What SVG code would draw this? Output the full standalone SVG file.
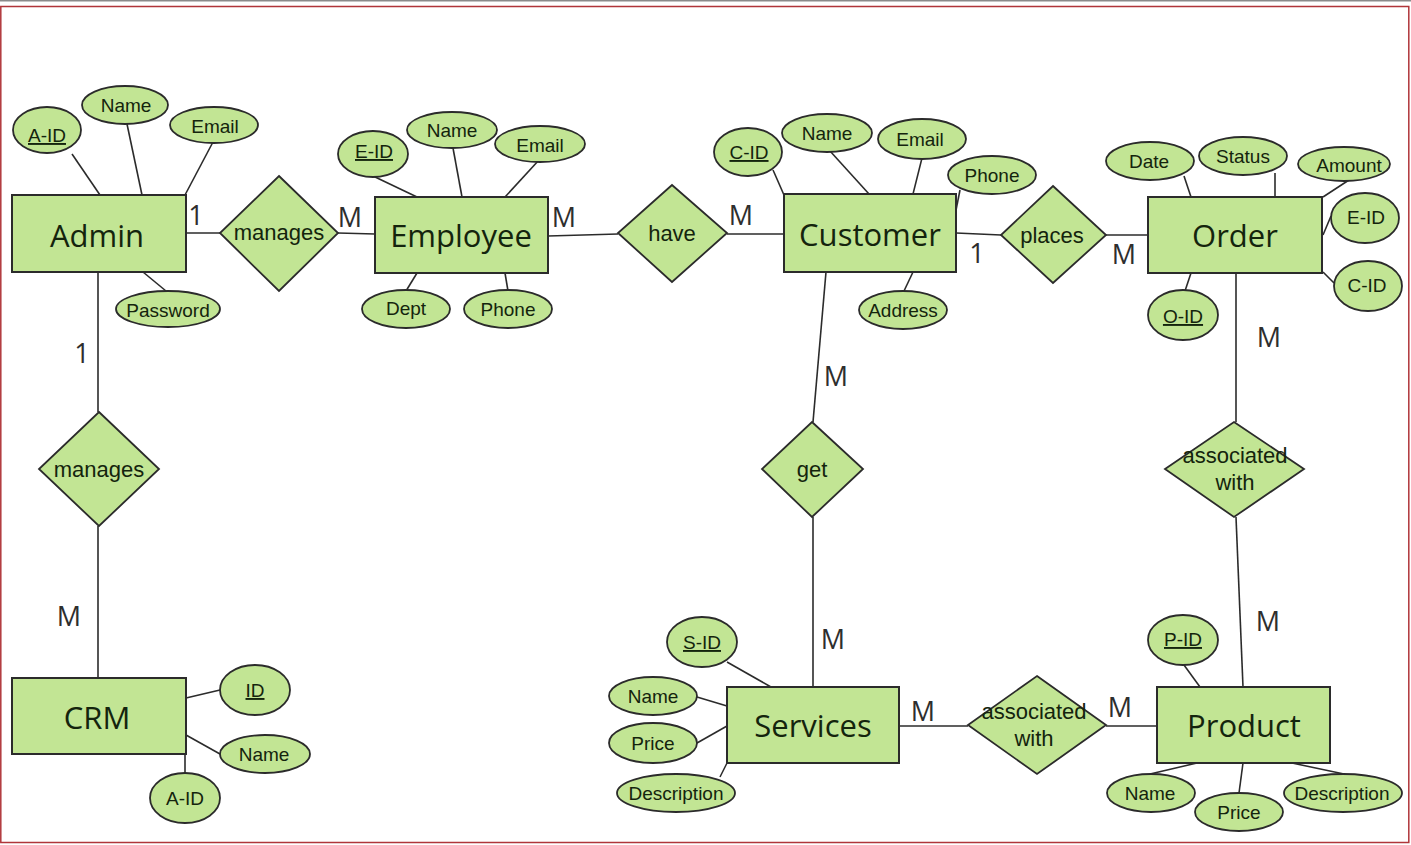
<svg xmlns="http://www.w3.org/2000/svg" width="1411" height="845" viewBox="0 0 1411 845">
<style>
.ent rect{fill:#c2e594;stroke:#2b2b2b;stroke-width:2}
.rel polygon{fill:#c2e594;stroke:#2b2b2b;stroke-width:1.8}
.att ellipse{fill:#c2e594;stroke:#2b2b2b;stroke-width:1.8}
.et{font-family:"Open Sans","Noto Sans",sans-serif;font-size:31px;fill:#14240d;text-anchor:middle}
.rt{font-family:"Liberation Sans",Arial,sans-serif;font-size:22px;fill:#14240d;text-anchor:middle}
.at{font-family:"Liberation Sans",Arial,sans-serif;font-size:19px;fill:#14240d;text-anchor:middle}
.key{text-decoration:underline}
.card{font-family:"Open Sans","Noto Sans",sans-serif;font-size:27px;fill:#2e2e2e;text-anchor:middle}
#connectors line{stroke:#2b2b2b;stroke-width:1.6}
</style>
<rect x="0" y="0" width="1411" height="845" fill="#ffffff"/>
<line x1="0" y1="0.8" x2="1411" y2="0.8" stroke="#8a8a8a" stroke-width="1.6"/>
<rect x="0.8" y="6.5" width="1408" height="836" fill="none" stroke="#b0353a" stroke-width="1.5"/>

<g id="connectors">
<!-- relationships -->
<line x1="186" y1="233" x2="220" y2="233"/>
<line x1="338" y1="233" x2="375" y2="234"/>
<line x1="548" y1="236" x2="618" y2="234"/>
<line x1="727" y1="234" x2="784" y2="234"/>
<line x1="956" y1="233" x2="1001" y2="235"/>
<line x1="1106" y1="235" x2="1148" y2="235"/>
<line x1="98" y1="272" x2="98" y2="412"/>
<line x1="98" y1="526" x2="98" y2="678"/>
<line x1="826" y1="272" x2="813" y2="422"/>
<line x1="813" y1="517" x2="813" y2="687"/>
<line x1="1236" y1="273" x2="1236" y2="422"/>
<line x1="1236" y1="517" x2="1243" y2="687"/>
<line x1="899" y1="726" x2="968" y2="726"/>
<line x1="1106" y1="726" x2="1157" y2="726"/>
<!-- attributes -->
<line x1="72" y1="154" x2="100" y2="195"/>
<line x1="127" y1="124" x2="142" y2="195"/>
<line x1="213" y1="142" x2="185" y2="195"/>
<line x1="143" y1="272" x2="166" y2="291"/>
<line x1="373" y1="176" x2="417" y2="197"/>
<line x1="453" y1="148" x2="462" y2="197"/>
<line x1="539" y1="160" x2="505" y2="197"/>
<line x1="417" y1="273" x2="406" y2="291"/>
<line x1="505" y1="273" x2="508" y2="291"/>
<line x1="773" y1="170" x2="784" y2="195"/>
<line x1="830" y1="151" x2="869" y2="194"/>
<line x1="922" y1="158" x2="913" y2="194"/>
<line x1="960" y1="190" x2="956" y2="210"/>
<line x1="913" y1="272" x2="904" y2="291"/>
<line x1="1184" y1="176" x2="1191" y2="197"/>
<line x1="1275" y1="173" x2="1275" y2="200"/>
<line x1="1349" y1="180" x2="1323" y2="197"/>
<line x1="1331" y1="216" x2="1323" y2="235"/>
<line x1="1323" y1="272" x2="1334" y2="283"/>
<line x1="1191" y1="273" x2="1185" y2="291"/>
<line x1="186" y1="698" x2="220" y2="690"/>
<line x1="186" y1="735" x2="220" y2="754"/>
<line x1="185" y1="754" x2="185" y2="773"/>
<line x1="727" y1="662" x2="771" y2="687"/>
<line x1="697" y1="697" x2="727" y2="706"/>
<line x1="697" y1="743" x2="727" y2="726"/>
<line x1="720" y1="777" x2="727" y2="763"/>
<line x1="1184" y1="665" x2="1200" y2="687"/>
<line x1="1150" y1="774" x2="1197" y2="763"/>
<line x1="1243" y1="763" x2="1239" y2="793"/>
<line x1="1292" y1="763" x2="1344" y2="774"/>
</g>

<g id="cardinalities">
<text class="card" x="196" y="225">1</text>
<text class="card" x="350" y="227">M</text>
<text class="card" x="564" y="227">M</text>
<text class="card" x="741" y="225">M</text>
<text class="card" x="977" y="263">1</text>
<text class="card" x="1124" y="264">M</text>
<text class="card" x="1269" y="347">M</text>
<text class="card" x="82" y="363">1</text>
<text class="card" x="69" y="626">M</text>
<text class="card" x="836" y="386">M</text>
<text class="card" x="1268" y="631">M</text>
<text class="card" x="833" y="649">M</text>
<text class="card" x="923" y="721">M</text>
<text class="card" x="1120" y="717">M</text>
</g>

<!-- entities -->
<g id="admin" class="ent"><rect x="12" y="195" width="174" height="77"/><text class="et" x="97" y="247">Admin</text></g>
<g id="employee" class="ent"><rect x="375" y="197" width="173" height="76"/><text class="et" x="461" y="247">Employee</text></g>
<g id="customer" class="ent"><rect x="784" y="194" width="172" height="78"/><text class="et" x="870" y="246">Customer</text></g>
<g id="order" class="ent"><rect x="1148" y="197" width="174" height="76"/><text class="et" x="1235" y="247">Order</text></g>
<g id="crm" class="ent"><rect x="12" y="678" width="174" height="76"/><text class="et" x="97" y="729">CRM</text></g>
<g id="services" class="ent"><rect x="727" y="687" width="172" height="76"/><text class="et" x="813" y="737">Services</text></g>
<g id="product" class="ent"><rect x="1157" y="687" width="173" height="76"/><text class="et" x="1244" y="737">Product</text></g>

<!-- relationships -->
<g id="rel-manages-emp" class="rel"><polygon points="279,176 338,233 279,291 220,233"/><text class="rt" x="279" y="240">manages</text></g>
<g id="rel-have" class="rel"><polygon points="672,185 727,233 672,282 618,233"/><text class="rt" x="672" y="241">have</text></g>
<g id="rel-places" class="rel"><polygon points="1053,186 1106,235 1053,283 1001,235"/><text class="rt" x="1052" y="243">places</text></g>
<g id="rel-manages-crm" class="rel"><polygon points="99,412 159,469 99,526 39,469"/><text class="rt" x="99" y="477">manages</text></g>
<g id="rel-get" class="rel"><polygon points="812,422 863,469 812,517 762,469"/><text class="rt" x="812" y="477">get</text></g>
<g id="rel-assoc-order" class="rel"><polygon points="1234,422 1304,469 1234,517 1165,469"/><text class="rt" x="1235" y="463">associated</text><text class="rt" x="1235" y="490">with</text></g>
<g id="rel-assoc-svc" class="rel"><polygon points="1037,676 1106,725 1037,774 968,725"/><text class="rt" x="1034" y="719">associated</text><text class="rt" x="1034" y="746">with</text></g>

<!-- attributes -->
<g id="admin-aid" class="att"><ellipse cx="47" cy="130" rx="34" ry="23"/><text class="at key" x="47" y="142">A-ID</text></g>
<g id="admin-name" class="att"><ellipse cx="125" cy="105" rx="43" ry="19"/><text class="at" x="126" y="112">Name</text></g>
<g id="admin-email" class="att"><ellipse cx="214" cy="125" rx="44" ry="18"/><text class="at" x="215" y="133">Email</text></g>
<g id="admin-password" class="att"><ellipse cx="168" cy="309" rx="52" ry="18"/><text class="at" x="168" y="317">Password</text></g>

<g id="emp-eid" class="att"><ellipse cx="373" cy="154" rx="35" ry="23"/><text class="at key" x="374" y="158">E-ID</text></g>
<g id="emp-name" class="att"><ellipse cx="452" cy="130" rx="45" ry="18"/><text class="at" x="452" y="137">Name</text></g>
<g id="emp-email" class="att"><ellipse cx="540" cy="144" rx="45" ry="18"/><text class="at" x="540" y="152">Email</text></g>
<g id="emp-dept" class="att"><ellipse cx="406" cy="309" rx="44" ry="19"/><text class="at" x="406" y="315">Dept</text></g>
<g id="emp-phone" class="att"><ellipse cx="508" cy="309" rx="44" ry="19"/><text class="at" x="508" y="316">Phone</text></g>

<g id="cust-cid" class="att"><ellipse cx="748" cy="152" rx="34" ry="24"/><text class="at key" x="749" y="159">C-ID</text></g>
<g id="cust-name" class="att"><ellipse cx="827" cy="133" rx="45" ry="19"/><text class="at" x="827" y="140">Name</text></g>
<g id="cust-email" class="att"><ellipse cx="922" cy="139" rx="44" ry="20"/><text class="at" x="920" y="146">Email</text></g>
<g id="cust-phone" class="att"><ellipse cx="992" cy="175" rx="44" ry="19"/><text class="at" x="992" y="182">Phone</text></g>
<g id="cust-address" class="att"><ellipse cx="903" cy="310" rx="44" ry="19"/><text class="at" x="903" y="317">Address</text></g>

<g id="order-date" class="att"><ellipse cx="1150" cy="161" rx="44" ry="19"/><text class="at" x="1149" y="168">Date</text></g>
<g id="order-status" class="att"><ellipse cx="1243" cy="156" rx="44" ry="19"/><text class="at" x="1243" y="163">Status</text></g>
<g id="order-amount" class="att"><ellipse cx="1344" cy="164" rx="46" ry="17"/><text class="at" x="1349" y="172">Amount</text></g>
<g id="order-eid" class="att"><ellipse cx="1365" cy="218" rx="34" ry="25"/><text class="at" x="1366" y="224">E-ID</text></g>
<g id="order-cid" class="att"><ellipse cx="1368" cy="286" rx="34" ry="25"/><text class="at" x="1367" y="292">C-ID</text></g>
<g id="order-oid" class="att"><ellipse cx="1183" cy="315" rx="35" ry="25"/><text class="at key" x="1183" y="323">O-ID</text></g>

<g id="crm-id" class="att"><ellipse cx="255" cy="690" rx="35" ry="25"/><text class="at key" x="255" y="697">ID</text></g>
<g id="crm-name" class="att"><ellipse cx="265" cy="754" rx="45" ry="19"/><text class="at" x="264" y="761">Name</text></g>
<g id="crm-aid" class="att"><ellipse cx="185" cy="798" rx="35" ry="25"/><text class="at" x="185" y="805">A-ID</text></g>

<g id="svc-sid" class="att"><ellipse cx="702" cy="642" rx="35" ry="25"/><text class="at key" x="702" y="649">S-ID</text></g>
<g id="svc-name" class="att"><ellipse cx="653" cy="696" rx="44" ry="19"/><text class="at" x="653" y="703">Name</text></g>
<g id="svc-price" class="att"><ellipse cx="653" cy="743" rx="44" ry="20"/><text class="at" x="653" y="750">Price</text></g>
<g id="svc-description" class="att"><ellipse cx="676" cy="793" rx="59" ry="19"/><text class="at" x="676" y="800">Description</text></g>

<g id="prod-pid" class="att"><ellipse cx="1183" cy="640" rx="35" ry="25"/><text class="at key" x="1183" y="646">P-ID</text></g>
<g id="prod-name" class="att"><ellipse cx="1151" cy="793" rx="44" ry="19"/><text class="at" x="1150" y="800">Name</text></g>
<g id="prod-price" class="att"><ellipse cx="1239" cy="812" rx="44" ry="19"/><text class="at" x="1239" y="819">Price</text></g>
<g id="prod-description" class="att"><ellipse cx="1343" cy="793" rx="59" ry="19"/><text class="at" x="1342" y="800">Description</text></g>
</svg>
